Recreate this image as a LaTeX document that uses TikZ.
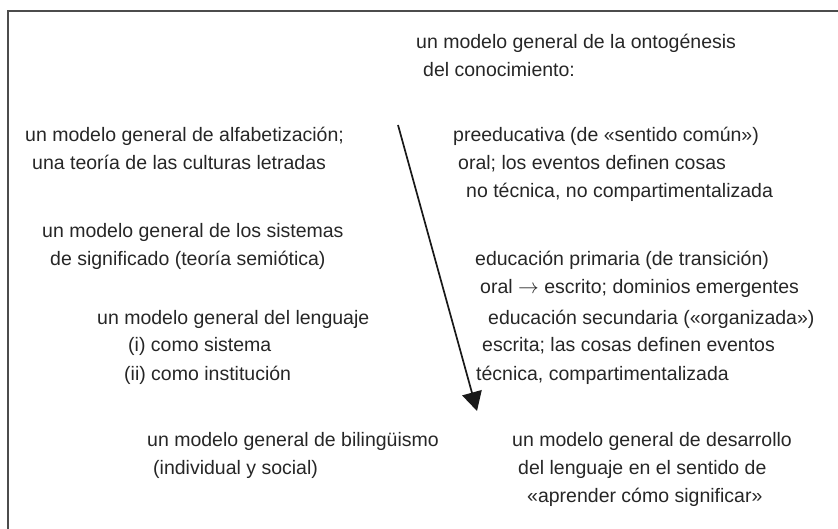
\documentclass[tikz,border=0pt]{standalone}
\usepackage{fontspec}
\setmainfont{Liberation Sans}
\usetikzlibrary{arrows.meta}
\begin{document}
\begin{tikzpicture}[x=1pt,y=-1pt,
  txt/.style={anchor=base west,inner sep=0pt,font=\fontsize{19.5}{22}\selectfont,text=black!85},
  frameline/.style={draw=black!70,line width=1.3pt},
  arrowline/.style={draw=black!90,line width=1.7pt,-{Triangle[length=19pt,width=20pt]}}]
\useasboundingbox (0,0) rectangle (838,529);
\draw[frameline] (8,529) -- (8,11) -- (838,11);
% right column
\node[txt] (o1) at (416,49) {un modelo general de la ontogénesis};
\node[txt] (o2) at (423,77) {del conocimiento:};
\node[txt] (p1) at (453,142) {preeducativa (de «sentido común»)};
\node[txt] (p2) at (458,170) {oral; los eventos definen cosas};
\node[txt] (p3) at (466,198) {no técnica, no compartimentalizada};
\node[txt] (e1) at (475,266) {educación primaria (de transición)};
\node[txt] (e2) at (480,294) {oral $\rightarrow$ escrito; dominios emergentes};
\node[txt] (s1) at (488,324) {educación secundaria («organizada»)};
\node[txt] (s2) at (482,352) {escrita; las cosas definen eventos};
\node[txt] (s3) at (476,380) {técnica, compartimentalizada};
\node[txt] (d1) at (512,446) {un modelo general de desarrollo};
\node[txt] (d2) at (518,474) {del lenguaje en el sentido de};
\node[txt] (d3) at (527,502) {«aprender cómo significar»};
% left column
\node[txt] (a1) at (25,142) {un modelo general de alfabetización;};
\node[txt] (a2) at (32,170) {una teoría de las culturas letradas};
\node[txt] (m1) at (42,238) {un modelo general de los sistemas};
\node[txt] (m2) at (50,266) {de significado (teoría semiótica)};
\node[txt] (l1) at (97,324) {un modelo general del lenguaje};
\node[txt] (l2) at (128,352) {(i) como sistema};
\node[txt] (l3) at (124,380) {(ii) como institución};
\node[txt] (b1) at (147,446) {un modelo general de bilingüismo};
\node[txt] (b2) at (153,474) {(individual y social)};
% arrow
\coordinate (arrS) at (398,125);
\coordinate (arrE) at (477,411);
\draw[arrowline] (arrS) -- (arrE);
\end{tikzpicture}
\end{document}
